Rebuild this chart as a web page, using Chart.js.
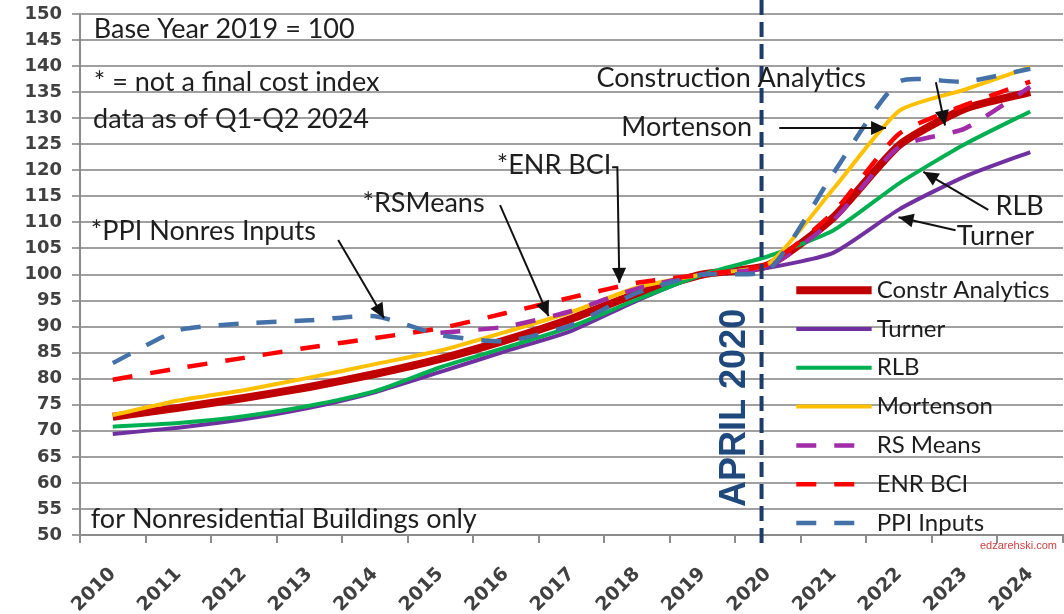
<!DOCTYPE html>
<html>
<head>
<meta charset="utf-8">
<script src="https://cdn.jsdelivr.net/npm/chart.js@4.4.1/dist/chart.umd.min.js"></script>
<style>
  html, body { margin: 0; padding: 0; background: #fff; }
</style>
</head>
<body>
<canvas id="costChart" width="1064" height="614"></canvas>
<script>
// Construction cost indexes, base year 2019 = 100
var years = ['2010', '2011', '2012', '2013', '2014', '2015', '2016', '2017',
             '2018', '2019', '2020', '2021', '2022', '2023', '2024'];

var constrAnalytics = [72.7, 74.4, 76.3, 78.4, 80.9, 83.8, 87.4, 91.5, 96.3, 100, 101.8, 111.0, 124.8, 131.8, 135.0];
var turner          = [69.4, 70.6, 72.2, 74.4, 77.4, 81.3, 85.3, 89.2, 95.0, 100, 101.3, 104.2, 112.5, 118.8, 123.5];
var rlb             = [70.8, 71.5, 72.8, 74.8, 77.6, 82.2, 86.0, 90.0, 95.2, 100, 103.5, 108.5, 117.5, 125.0, 131.3];
var mortenson       = [73.0, 75.8, 77.8, 80.2, 82.8, 85.4, 89.0, 92.8, 97.5, 100, 102.0, 116.5, 131.4, 135.5, 139.8];
var rsMeans         = [null, null, null, null, null, 88.8, 90.0, 93.0, 97.3, 100, 101.5, 110.5, 124.5, 128.0, 136.0];
var enrBci          = [79.8, 82.0, 84.0, 86.0, 87.8, 89.7, 92.6, 95.6, 98.4, 100, 102.0, 112.0, 127.0, 132.5, 137.0];
var ppiInputs       = [83.0, 89.3, 90.6, 91.2, 92.0, 88.4, 87.2, 90.3, 96.5, 100, 100.8, 119.5, 137.0, 137.0, 139.5];

var seriesNames = ['Constr Analytics', 'Turner', 'RLB', 'Mortenson', 'RS Means', 'ENR BCI', 'PPI Inputs'];

// April 2020 marker, in category units (2010 = 0)
var aprilMark = 9.9;

var styles = [
  { color: '#C00000', width: 8, dash: [] },
  { color: '#7030A0', width: 4, dash: [] },
  { color: '#00B050', width: 4, dash: [] },
  { color: '#FFC000', width: 4, dash: [] },
  { color: '#A12CA8', width: 4.5, dash: [20, 18] },
  { color: '#FF0000', width: 4.5, dash: [20, 18] },
  { color: '#4472A8', width: 4.5, dash: [20, 18] }
];

var allSeries = [constrAnalytics, turner, rlb, mortenson, rsMeans, enrBci, ppiInputs];

var datasets = allSeries.map(function (vals, i) {
  return {
    label: seriesNames[i],
    data: vals,
    borderColor: styles[i].color,
    backgroundColor: styles[i].color,
    borderWidth: styles[i].width,
    borderDash: styles[i].dash,
    borderCapStyle: 'butt',
    pointRadius: 0,
    tension: 0.2,
    fill: false,
    order: allSeries.length - i
  };
});

// text notes and arrows, placed in axis units (x: category index, y: index value)
var notes = [
  { text: 'Base Year 2019 = 100', x: -0.29, y: 147.1 },
  { text: '* = not a final cost index', x: -0.29, y: 136.9 },
  { text: 'data as of Q1-Q2 2024', x: -0.30, y: 129.8 },
  { text: '*PPI Nonres Inputs', x: -0.335, y: 108.2 },
  { text: '*RSMeans', x: 3.81, y: 113.7 },
  { text: '*ENR BCI', x: 5.86, y: 121.0 },
  { text: 'Construction Analytics', x: 7.38, y: 137.7 },
  { text: 'Mortenson', x: 7.76, y: 128.3 },
  { text: 'RLB', x: 13.47, y: 113.1 },
  { text: 'Turner', x: 12.88, y: 107.4 },
  { text: 'for Nonresidential Buildings only', x: -0.335, y: 53.1 }
];

var arrows = [
  [[3.44, 106.6], [4.14, 91.6]],
  [[5.91, 113.3], [6.65, 92.0]],
  [[7.62, 120.6], [7.70, 120.6], [7.73, 98.4]],
  [[12.56, 136.9], [12.70, 128.6]],
  [[10.17, 128.1], [11.80, 128.1]],
  [[13.36, 112.4], [12.37, 119.7]],
  [[12.86, 108.5], [11.99, 111.0]]
];

// legend block placement, axis units
var legendBox = { x1: 10.43, x2: 11.58, top: 97.0, step: 7.45 };

var overlay = {
  id: 'overlay',
  afterDatasetsDraw: function (chart) {
    var ctx = chart.ctx, xs = chart.scales.x, ys = chart.scales.y, area = chart.chartArea;
    var ax = xs.getPixelForValue(aprilMark);
    ctx.save();
    ctx.strokeStyle = '#1F3B6B';
    ctx.lineWidth = 4;
    ctx.setLineDash([15, 7]);
    ctx.beginPath();
    ctx.moveTo(ax, 0);
    ctx.lineTo(ax, area.bottom + 10);
    ctx.stroke();
    ctx.setLineDash([]);

    ctx.translate(ax - 26, ys.getPixelForValue(74.4));
    ctx.rotate(-Math.PI / 2);
    ctx.font = 'bold 36px "Liberation Sans", Arial, sans-serif';
    ctx.fillStyle = '#1F497D';
    ctx.textAlign = 'center';
    ctx.textBaseline = 'middle';
    ctx.fillText('APRIL 2020', 0, 0);
    ctx.restore();
  },
  afterDraw: function (chart) {
    var ctx = chart.ctx, xs = chart.scales.x, ys = chart.scales.y, area = chart.chartArea;
    function px(v) { return xs.getPixelForValue(v); }
    function py(v) { return ys.getPixelForValue(v); }
    ctx.save();

    // notes
    ctx.font = '27px Lato, "Noto Sans", sans-serif';
    ctx.fillStyle = '#1E1E1E';
    ctx.textAlign = 'left';
    ctx.textBaseline = 'middle';
    notes.forEach(function (n) { ctx.fillText(n.text, px(n.x), py(n.y)); });

    // arrows
    ctx.strokeStyle = '#111';
    ctx.fillStyle = '#111';
    ctx.lineWidth = 2;
    arrows.forEach(function (pts) {
      ctx.beginPath();
      pts.forEach(function (p, k) {
        if (k === 0) ctx.moveTo(px(p[0]), py(p[1]));
        else ctx.lineTo(px(p[0]), py(p[1]));
      });
      ctx.stroke();
      var a = pts[pts.length - 2], b = pts[pts.length - 1];
      var x1 = px(a[0]), y1 = py(a[1]), x2 = px(b[0]), y2 = py(b[1]);
      var ang = Math.atan2(y2 - y1, x2 - x1);
      ctx.beginPath();
      ctx.moveTo(x2, y2);
      ctx.lineTo(x2 - 15 * Math.cos(ang) + 7 * Math.sin(ang), y2 - 15 * Math.sin(ang) - 7 * Math.cos(ang));
      ctx.lineTo(x2 - 15 * Math.cos(ang) - 7 * Math.sin(ang), y2 - 15 * Math.sin(ang) + 7 * Math.cos(ang));
      ctx.closePath();
      ctx.fill();
    });

    // legend
    var lx1 = px(legendBox.x1), lx2 = px(legendBox.x2);
    ctx.font = '24px Lato, "Noto Sans", sans-serif';
    chart.data.datasets.forEach(function (ds, i) {
      var y = py(legendBox.top - i * legendBox.step);
      ctx.strokeStyle = ds.borderColor;
      ctx.lineWidth = ds.borderWidth;
      ctx.setLineDash(ds.borderDash);
      ctx.beginPath();
      ctx.moveTo(lx1, y);
      ctx.lineTo(lx2, y);
      ctx.stroke();
      ctx.setLineDash([]);
      ctx.fillStyle = '#1E1E1E';
      ctx.fillText(ds.label, lx2 + 5, y);
    });

    // watermark
    ctx.font = '11px "Liberation Sans", Arial, sans-serif';
    ctx.fillStyle = '#D04040';
    ctx.textAlign = 'right';
    ctx.fillText('edzarehski.com', area.right - 6, area.bottom + 11);
    ctx.restore();
  }
};

var ctx = document.getElementById('costChart').getContext('2d');

var costChart = new Chart(ctx, {
  type: 'line',
  data: { labels: years, datasets: datasets },
  options: {
    responsive: false,
    animation: false,
    layout: { padding: { top: 14, right: 1, left: 0, bottom: 0 } },
    plugins: {
      legend: { display: false },
      tooltip: { enabled: false }
    },
    scales: {
      x: {
        type: 'category',
        offset: true,
        afterFit: function (s) { s.height = 79; s.paddingLeft = 0; s.paddingRight = 0; },
        grid: { offset: true, drawOnChartArea: false, drawTicks: true, tickLength: 8, color: '#8C8C8C', lineWidth: 2 },
        border: { display: true, color: '#8C8C8C', width: 2 },
        ticks: {
          autoSkip: false,
          minRotation: 45,
          maxRotation: 45,
          padding: 20,
          color: '#404040',
          font: { family: '"DejaVu Sans", sans-serif', size: 19, weight: 'bold' }
        }
      },
      y: {
        min: 50,
        max: 150,
        afterFit: function (s) { s.width = 80; s.paddingTop = 0; s.paddingBottom = 0; },
        grid: { color: '#A0A0A0', lineWidth: 2, drawTicks: true, tickLength: 8 },
        border: { display: true, color: '#8C8C8C', width: 2 },
        ticks: {
          stepSize: 5,
          autoSkip: false,
          padding: 10,
          color: '#404040',
          font: { family: '"DejaVu Sans", sans-serif', size: 18, weight: 'bold' }
        }
      }
    }
  },
  plugins: [overlay]
});
</script>
</body>
</html>
